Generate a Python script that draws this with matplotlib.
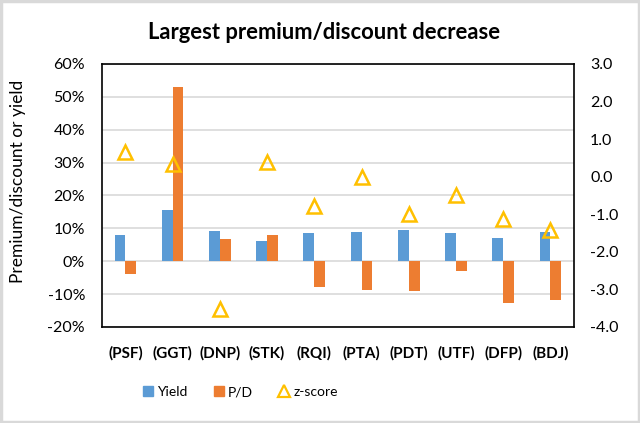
import numpy as np
import matplotlib
matplotlib.use("Agg")
from matplotlib import pyplot as plt
from matplotlib.patches import Rectangle
from matplotlib.lines import Line2D

plt.rcParams['font.family'] = ['Lato', 'DejaVu Sans']

# data
tickers = ['(PSF)', '(GGT)', '(DNP)', '(STK)', '(RQI)', '(PTA)', '(PDT)', '(UTF)', '(DFP)', '(BDJ)']
yield_pct = [7.9, 15.6, 9.2, 6.1, 8.5, 8.9, 9.4, 8.7, 7.1, 8.9]
pd_pct = [-3.9, 52.9, 6.6, 7.9, -7.7, -8.7, -9.0, -3.0, -12.6, -11.8]
zscore = [0.65, 0.33, -3.53, 0.40, -0.79, -0.02, -1.0, -0.5, -1.13, -1.41]

blue = '#5B9BD5'
orange = '#ED7D31'
gold = '#FFC000'

fig = plt.figure(figsize=(6.4, 4.23), dpi=100)
fig.patches.append(Rectangle((0.002, 0.003), 0.996, 0.994, transform=fig.transFigure,
                             fill=False, edgecolor='#d9d9d9', linewidth=2.5))

ax = fig.add_axes([0.159, 0.227, 0.738, 0.622])
x = np.arange(len(tickers))
w = 0.23
ax.bar(x - w / 2, yield_pct, w, color=blue, zorder=3)
ax.bar(x + w / 2, pd_pct, w, color=orange, zorder=3)

ax.set_xlim(-0.5, len(tickers) - 0.5)
ax.set_ylim(-20, 60)
ax.set_yticks(np.arange(-20, 61, 10))
ax.set_yticklabels([f'{v}%' for v in range(-20, 61, 10)], fontsize=11.5)
ax.set_xticks(x)
ax.set_xticklabels(tickers, fontsize=11, fontweight='bold')
ax.tick_params(length=0)
ax.tick_params(axis='y', pad=12)
ax.tick_params(axis='x', pad=14)
ax.grid(axis='y', color='#d9d9d9', linewidth=1.2, zorder=0)
for s in ax.spines.values():
    s.set_color('black')
    s.set_linewidth(1.2)

fig.text(18 / 640, 1 - 181 / 423, 'Premium/discount or yield', rotation=90,
         ha='center', va='center', fontsize=12.5)

ax2 = ax.twinx()
ax2.plot(x, zscore, linestyle='none', marker='^', markersize=10, markerfacecolor='none',
         markeredgecolor=gold, markeredgewidth=1.8, zorder=4)
ax2.set_ylim(-4, 3)
ax2.set_yticks(np.arange(-4, 3.1, 1))
ax2.set_yticklabels([f'{v:.1f}' for v in np.arange(-4, 3.1, 1)], fontsize=11.5)
ax2.tick_params(length=0, pad=11.5)
for s in ax2.spines.values():
    s.set_visible(False)

fig.text(324 / 640, 0.922, 'Largest premium/discount decrease', ha='center', va='center',
         fontsize=15.8, fontweight='bold')

handles = [
    Rectangle((0, 0), 1, 1, color=blue),
    Rectangle((0, 0), 1, 1, color=orange),
    Line2D([], [], linestyle='none', marker='^', markersize=8, markerfacecolor='none',
           markeredgecolor=gold, markeredgewidth=1.6),
]
fig.legend(handles, ['Yield', 'P/D', 'z-score'], loc='center', bbox_to_anchor=(0.376, 0.073),
           ncol=3, frameon=False, fontsize=10, handlelength=0.7, handleheight=0.7,
           columnspacing=1.9, handletextpad=0.3)

plt.savefig('out.png', dpi=100)
